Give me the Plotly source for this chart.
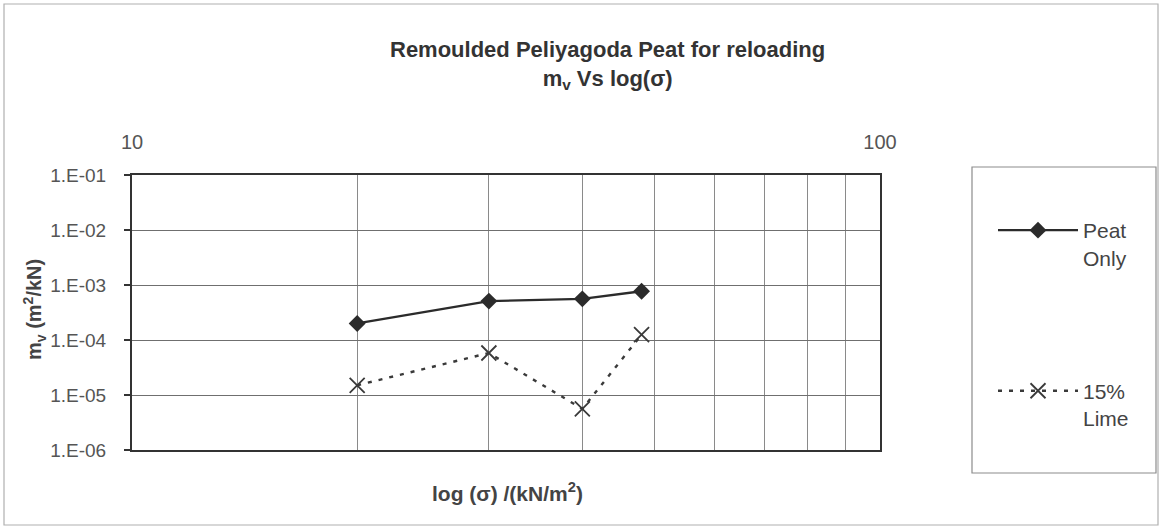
import plotly.graph_objects as go

# ---- data ----
stress = [20, 30, 40, 48]                      # kN/m^2
mv_peat = [2.0e-4, 5.1e-4, 5.6e-4, 7.7e-4]     # m^2/kN
mv_lime = [1.5e-5, 5.8e-5, 5.6e-6, 1.25e-4]    # m^2/kN
series_names = ["Peat<br>Only", "15%<br>Lime"]
y_tickvals = [1e-6, 1e-5, 1e-4, 1e-3, 1e-2, 1e-1]
y_ticktext = ["1.E-06", "1.E-05", "1.E-04", "1.E-03", "1.E-02", "1.E-01"]
x_tickvals = [10, 100]
x_ticktext = ["10", "100"]
x_minor_grid = [20, 30, 40, 50, 60, 70, 80, 90]

W, H = 1162, 529
L, R, T, B = 132, 880, 175, 450   # plot area in pixels


def px(xp):
    return (xp - L) / (R - L)


def py(yp):
    return (B - yp) / (B - T)


FONT = "Liberation Sans, Arial, sans-serif"

fig = go.Figure()
fig.add_trace(go.Scatter(
    x=stress, y=mv_peat, name=series_names[0], mode="lines+markers",
    line=dict(color="#2b2b2b", width=2.4),
    marker=dict(symbol="diamond", size=13, color="#2b2b2b"),
    legendgroup="a",
))
fig.add_trace(go.Scatter(
    x=stress, y=mv_lime, name=series_names[1], mode="lines+markers",
    line=dict(color="#3a3a3a", width=2.4, dash="4px,7px"),
    marker=dict(symbol="x-thin", size=15, color="#3a3a3a",
                line=dict(width=1.8, color="#3a3a3a")),
    legendgroup="b",
))

fig.update_layout(
    width=W, height=H,
    margin=dict(l=L, r=W - R, t=T, b=H - B),
    paper_bgcolor="white", plot_bgcolor="white",
    font=dict(family=FONT, color="#444", size=20),
    showlegend=True,
    legend=dict(
        x=px(993), xanchor="left", y=py(210), yanchor="top",
        bgcolor="rgba(0,0,0,0)", borderwidth=0,
        font=dict(family=FONT, size=21, color="#444"),
        tracegroupgap=103, valign="top", itemwidth=80,
    ),
)

fig.update_xaxes(
    type="log", range=[1, 2], side="top",
    tickvals=x_tickvals, ticktext=x_ticktext, ticks="",
    ticklabelstandoff=16,
    showgrid=True, gridcolor="#8a8a8a", gridwidth=1,
    minor=dict(tickvals=x_minor_grid, showgrid=True,
               gridcolor="#8a8a8a", gridwidth=1, ticks=""),
    showline=True, linecolor="#333", linewidth=2, mirror=True,
    zeroline=False, tickfont=dict(family=FONT, size=20, color="#555"),
)
fig.update_yaxes(
    type="log", range=[-6, -1],
    tickvals=y_tickvals, ticktext=y_ticktext,
    ticks="outside", ticklen=6, tickcolor="#333", tickwidth=1.5,
    ticklabelstandoff=14,
    showgrid=True, gridcolor="#6f6f6f", gridwidth=1.3,
    showline=True, linecolor="#333", linewidth=2, mirror=True,
    zeroline=False, tickfont=dict(family=FONT, size=19, color="#555"),
)

# title
fig.add_annotation(
    text="<b>Remoulded Peliyagoda Peat for reloading<br>m<sub>v</sub> Vs log(σ)</b>",
    xref="paper", yref="paper", x=px(607), y=py(35),
    showarrow=False, xanchor="center", yanchor="top",
    font=dict(family=FONT, size=22, color="#333"),
)
# axis titles
fig.add_annotation(
    text="<b>log (σ) /(kN/m<sup>2</sup>)</b>", xref="paper", yref="paper",
    x=px(507), y=py(492), showarrow=False, xanchor="center", yanchor="middle",
    font=dict(family=FONT, size=21, color="#444"),
)
fig.add_annotation(
    text="<b>m<sub>v</sub> (m<sup>2</sup>/kN)</b>", xref="paper", yref="paper",
    x=px(34), y=py(310), showarrow=False, textangle=-90,
    xanchor="center", yanchor="middle",
    font=dict(family=FONT, size=20, color="#444"),
)

# legend box and outer chart border
fig.add_shape(type="rect", xref="paper", yref="paper",
              x0=px(972), x1=px(1156), y0=py(167), y1=py(473),
              line=dict(color="#8c8c8c", width=1.2))
fig.add_shape(type="rect", xref="paper", yref="paper",
              x0=px(4), x1=px(1158), y0=py(4), y1=py(525),
              line=dict(color="#b0b0b0", width=1.2))

fig.write_html("out.html",
               config={"displayModeBar": False},
               post_script="document.body.style.margin='0';"
                           "document.body.style.overflow='hidden';")
